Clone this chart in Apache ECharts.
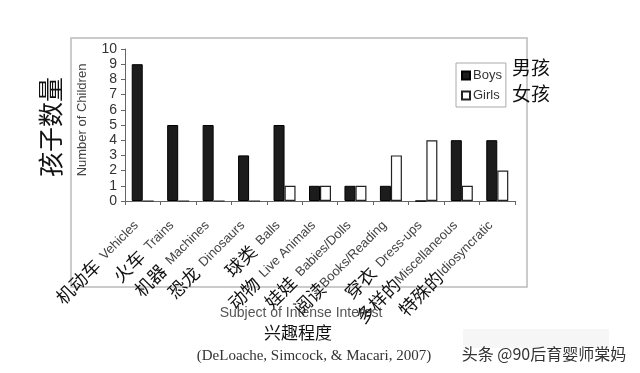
<!DOCTYPE html>
<html>
<head>
<meta charset="utf-8">
<script src="https://cdn.jsdelivr.net/npm/echarts@6/dist/echarts.min.js"></script>
<style>
html,body{margin:0;padding:0;background:#fff;}
#chart{width:640px;height:373px;}
</style>
</head>
<body>
<div id="chart"></div>
<script>
var categoriesEn = ['Vehicles','Trains','Machines','Dinosaurs','Balls','Live Animals','Babies/Dolls','Books/Reading','Dress-ups','Miscellaneous','Idiosyncratic'];
var categoriesCn = ['机动车','火车','机器','恐龙','球类','动物','娃娃','阅读','穿衣','多样的','特殊的'];
var labelSeparators = [' ',' ',' ',' ',' ',' ',' ','',' ','',''];
var boys  = [9,5,5,3,5,1,1,1,0,4,4];
var girls = [0,0,0,0,1,1,1,3,4,1,2];
var yTicks = [0,1,2,3,4,5,6,7,8,9,10];

var chart = echarts.init(document.getElementById('chart'), null, {renderer:'canvas'});
var en = "'Liberation Sans', Arial, sans-serif";
var cn = "'Noto Sans CJK SC', sans-serif";

var option = {
  animation:false,
  backgroundColor:'#fff',
  grid:{left:125, right:125, top:49, bottom:172, containLabel:false},
  legend:{
    orient:'vertical', left:456, top:63,
    padding:[6,4,5,5], itemGap:7,
    itemWidth:8, itemHeight:8, icon:'rect',
    borderColor:'#aaa', borderWidth:1,
    textStyle:{fontFamily:en, fontSize:13, color:'#333', padding:[0,0,0,-2]},
    data:['Boys','Girls']
  },
  xAxis:{
    type:'category',
    data:categoriesEn.map(function(c,i){return i;}),
    axisLine:{lineStyle:{color:'#666', width:1}},
    axisTick:{show:true, alignWithLabel:false, length:4, lineStyle:{color:'#666'}},
    axisLabel:{
      interval:0, rotate:45, margin:16, padding:[0,9,0,0],
      formatter:function(v, i){
        return '{cn|'+categoriesCn[i]+'}'+(labelSeparators[i]?'{sp|'+labelSeparators[i]+'}':'')+'{en|'+categoriesEn[i]+'}';
      },
      rich:{
        cn:{fontFamily:cn, fontSize:18, color:'#111'},
        sp:{fontSize:13, width:7},
        en:{fontFamily:en, fontSize:13, color:'#444'}
      }
    }
  },
  yAxis:{
    type:'value', min:0, max:10, interval:1,
    axisLine:{show:true, lineStyle:{color:'#666', width:1}},
    axisTick:{show:true, length:4, lineStyle:{color:'#666'}},
    splitLine:{show:false},
    axisLabel:{fontFamily:en, fontSize:14, color:'#333', margin:8,
      formatter:function(v){return yTicks.indexOf(v)>=0?String(v):'';}}
  },
  series:[
    {name:'Boys', type:'bar', data:boys, barWidth:11, barGap:'0%',
     itemStyle:{color:'#1c1c1c', borderColor:'#000', borderWidth:1}},
    {name:'Girls', type:'bar', data:girls, barWidth:11, barGap:'0%',
     itemStyle:{color:'#fff', borderColor:'#222', borderWidth:1.2}}
  ],
  graphic:[
    {type:'rect', z:-1, shape:{x:71, y:38, width:456, height:249}, style:{fill:'none', stroke:'#bbb', lineWidth:1.5}},
    {type:'rect', z:-1, shape:{x:463, y:329, width:146, height:19}, style:{fill:'#f6f6f6'}},
    {type:'text', x:82, y:120, rotation:Math.PI/2, style:{text:'Number of Children', font:'13px '+en, fill:'#444', textAlign:'center', textVerticalAlign:'middle'}},
    {type:'text', x:50, y:127, rotation:Math.PI/2, style:{text:'孩子数量', font:'25px '+cn, fill:'#111', textAlign:'center', textVerticalAlign:'middle'}},
    {type:'text', x:512, y:68, style:{text:'男孩', font:'19px '+cn, fill:'#111', textAlign:'left', textVerticalAlign:'middle'}},
    {type:'text', x:512, y:94, style:{text:'女孩', font:'19px '+cn, fill:'#111', textAlign:'left', textVerticalAlign:'middle'}},
    {type:'text', x:301, y:313, style:{text:'Subject of Intense Interest', font:'14px '+en, fill:'#555', textAlign:'center', textVerticalAlign:'middle'}},
    {type:'text', x:298, y:333, style:{text:'兴趣程度', font:'17px '+cn, fill:'#111', textAlign:'center', textVerticalAlign:'middle'}},
    {type:'text', x:314, y:356, style:{text:'(DeLoache, Simcock, & Macari, 2007)', font:"15px 'Liberation Serif', 'Times New Roman', serif", fill:'#333', textAlign:'center', textVerticalAlign:'middle'}},
    {type:'text', x:544, y:354, style:{text:'头条 @90后育婴师棠妈', font:'16px '+cn, fill:'#333', textAlign:'center', textVerticalAlign:'middle'}}
  ]
};
chart.setOption(option);
</script>
</body>
</html>
